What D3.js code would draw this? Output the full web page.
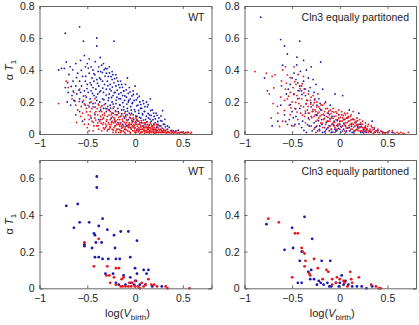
<!DOCTYPE html>
<html>
<head>
<meta charset="utf-8">
<script src="https://cdn.jsdelivr.net/npm/d3@7"></script>
<style>
  body { margin: 0; background: #fff; }
  svg { font-family: "Liberation Sans", Arial, sans-serif; }
</style>
</head>
<body>
<div id="chart"></div>
<script>
// Tick values and panel titles
const xTicks = [-1, -0.5, 0, 0.5];
const yTicksTop = [0, 0.2, 0.4, 0.6, 0.8];
const yTicksBottom = [0, 0.2, 0.4, 0.6];
const titles = ["WT", "Cln3 equally partitoned", "WT", "Cln3 equally partitoned"];

// Top-left: WT, all cells  [log(Vbirth), alpha*T1]
const tlBlue = [[-0.58,0.67],[-0.73,0.63],[-0.54,0.58],[-0.40,0.60],[-0.22,0.58],[-0.40,0.55],[-0.48,0.47],[-0.53,0.49],[-0.57,0.46],[-0.62,0.44],[-0.80,0.40],[-0.77,0.41],[-0.74,0.41],[-0.68,0.42],[-0.72,0.45],[-0.52,0.42],[-0.50,0.44],[-0.46,0.42],[-0.44,0.40],[-0.38,0.42],[-0.35,0.43],[-0.33,0.44],[-0.31,0.41],[-0.36,0.39],[-0.30,0.38],[-0.28,0.36],[-0.42,0.37],[-0.45,0.35],[-0.48,0.38],[-0.55,0.36],[-0.60,0.38],[-0.65,0.33],[-0.62,0.30],[-0.58,0.33],[-0.56,0.30],[-0.52,0.33],[-0.50,0.31],[-0.47,0.32],[-0.43,0.33],[-0.40,0.34],[-0.37,0.35],[-0.34,0.33],[-0.32,0.31],[-0.29,0.33],[-0.26,0.31],[-0.24,0.34],[-0.22,0.32],[-0.20,0.30],[-0.18,0.33],[-0.16,0.29],[-0.14,0.31],[-0.12,0.27],[-0.38,0.30],[-0.41,0.28],[-0.44,0.29],[-0.46,0.27],[-0.49,0.26],[-0.53,0.27],[-0.57,0.26],[-0.61,0.25],[-0.66,0.24],[-0.70,0.26],[-0.73,0.29],[-0.71,0.20],[-0.64,0.21],[-0.58,0.22],[-0.55,0.20],[-0.51,0.23],[-0.47,0.22],[-0.43,0.24],[-0.39,0.25],[-0.36,0.27],[-0.33,0.26],[-0.30,0.28],[-0.27,0.25],[-0.25,0.27],[-0.23,0.24],[-0.21,0.26],[-0.19,0.23],[-0.17,0.25],[-0.15,0.22],[-0.13,0.24],[-0.11,0.21],[-0.09,0.23],[-0.07,0.20],[-0.05,0.22],[-0.03,0.19],[-0.01,0.21],[0.02,0.25],[0.03,0.18],[0.05,0.20],[0.07,0.16],[0.09,0.19],[0.10,0.14],[0.13,0.17],[0.15,0.12],[0.18,0.15],[0.20,0.11],[0.22,0.13],[0.25,0.10],[0.28,0.08],[0.31,0.06],[0.34,0.05],[0.16,0.22],[0.12,0.20],[-0.02,0.27],[0.00,0.30],[-0.06,0.29],[-0.10,0.31],[-0.08,0.35],[-0.20,0.37],[-0.24,0.39],[-0.27,0.42],[-0.52,0.18],[-0.48,0.17],[-0.44,0.19],[-0.40,0.21],[-0.37,0.20],[-0.34,0.22],[-0.31,0.19],[-0.28,0.21],[-0.26,0.18],[-0.24,0.20],[-0.22,0.17],[-0.20,0.19],[-0.18,0.16],[-0.16,0.18],[-0.14,0.15],[-0.12,0.17],[-0.10,0.14],[-0.08,0.16],[-0.06,0.13],[-0.04,0.15],[-0.02,0.12],[0.00,0.14],[0.02,0.11],[0.04,0.13],[0.06,0.10],[0.08,0.12],[0.11,0.09],[0.14,0.10],[0.17,0.08],[0.21,0.07],[0.24,0.06],[0.27,0.05],[-0.36,0.15],[-0.33,0.16],[-0.30,0.14],[-0.27,0.15],[-0.23,0.13],[-0.19,0.12],[-0.15,0.11],[-0.11,0.10],[-0.07,0.09],[-0.03,0.08],[0.01,0.07],[0.05,0.06],[0.09,0.05],[0.13,0.04],[0.19,0.03],[-0.42,0.12],[-0.46,0.10],[-0.58,0.14],[-0.62,0.12],[-0.55,0.08],[-0.38,0.09],[-0.25,0.10],[-0.21,0.08],[-0.17,0.07],[-0.13,0.06],[-0.09,0.05],[-0.05,0.04],[0.03,0.03],[0.40,0.02],[0.48,0.01],[0.55,0.01],[0.22,0.02],
[-0.612,0.352],[-0.587,0.274],[-0.563,0.398],[-0.541,0.237],[-0.517,0.361],[-0.503,0.284],[-0.489,0.412],[-0.474,0.196],[-0.458,0.307],[-0.446,0.253],[-0.431,0.377],[-0.419,0.168],[-0.407,0.231],[-0.393,0.316],[-0.384,0.187],[-0.371,0.263],[-0.359,0.342],[-0.347,0.176],[-0.338,0.287],[-0.326,0.214],[-0.314,0.362],[-0.303,0.243],[-0.296,0.158],[-0.284,0.302],[-0.276,0.226],[-0.263,0.281],[-0.257,0.162],[-0.246,0.228],[-0.238,0.293],[-0.229,0.187],[-0.217,0.258],[-0.206,0.144],[-0.198,0.212],[-0.187,0.274],[-0.176,0.139],[-0.168,0.221],[-0.159,0.182],[-0.147,0.258],[-0.139,0.127],[-0.128,0.196],[-0.117,0.151],[-0.106,0.238],[-0.097,0.118],[-0.086,0.187],[-0.078,0.143],[-0.066,0.211],[-0.057,0.104],[-0.046,0.171],[-0.037,0.128],[-0.026,0.196],[-0.014,0.091],[-0.006,0.152],[0.008,0.113],[0.017,0.176],[0.026,0.082],[0.038,0.147],[0.047,0.104],[0.058,0.161],[0.066,0.073],[0.077,0.127],[0.088,0.087],[0.097,0.142],[0.106,0.061],[0.118,0.111],[0.126,0.076],[0.137,0.128],[0.148,0.057],[0.157,0.093],[0.168,0.116],[0.177,0.048],[0.188,0.089],[0.197,0.062],[0.213,0.094],[0.226,0.041],[0.238,0.078],[0.253,0.052],[0.267,0.084],[0.283,0.037],[0.297,0.061],[0.318,0.045],[0.336,0.028],[0.358,0.041],[0.382,0.022],[0.421,0.017],[0.452,0.024],[0.503,0.012],[-0.692,0.372],[-0.668,0.297],[-0.648,0.268],[-0.629,0.207],[-0.674,0.181],[-0.705,0.321],[-0.653,0.401],[-0.417,0.452],[-0.386,0.391],[-0.364,0.478],[-0.342,0.384],[-0.323,0.402],[-0.294,0.408],[-0.268,0.382],[-0.251,0.358],[-0.233,0.371],[-0.214,0.346],[-0.192,0.351],[-0.171,0.308],[-0.152,0.331],[-0.132,0.292],[-0.118,0.268],[-0.093,0.276],[-0.071,0.253],[-0.052,0.263],[-0.032,0.238],[-0.017,0.247],[0.013,0.213],[0.027,0.226],[0.044,0.236],[0.061,0.184],[0.083,0.208],[0.104,0.171],[0.138,0.183],[0.164,0.147],[0.194,0.131],[0.231,0.117],[0.271,0.113],[0.288,0.146],[0.312,0.092]];
const tlRed = [[-0.80,0.19],[-0.72,0.33],[-0.70,0.29],[-0.66,0.22],[-0.62,0.18],[-0.60,0.15],[-0.57,0.11],[-0.53,0.06],[-0.55,0.13],[-0.51,0.16],[-0.49,0.12],[-0.47,0.14],[-0.45,0.08],[-0.44,0.17],[-0.42,0.10],[-0.41,0.14],[-0.40,0.05],[-0.39,0.12],[-0.38,0.18],[-0.37,0.08],[-0.36,0.11],[-0.35,0.14],[-0.34,0.06],[-0.33,0.10],[-0.32,0.13],[-0.31,0.04],[-0.30,0.08],[-0.29,0.11],[-0.28,0.15],[-0.27,0.06],[-0.26,0.09],[-0.25,0.12],[-0.24,0.03],[-0.23,0.07],[-0.22,0.10],[-0.21,0.05],[-0.20,0.08],[-0.19,0.12],[-0.18,0.03],[-0.17,0.06],[-0.16,0.09],[-0.15,0.02],[-0.14,0.05],[-0.13,0.08],[-0.12,0.11],[-0.11,0.03],[-0.10,0.06],[-0.09,0.09],[-0.08,0.02],[-0.07,0.04],[-0.06,0.07],[-0.05,0.10],[-0.04,0.03],[-0.03,0.05],[-0.02,0.08],[-0.01,0.02],[0.00,0.04],[0.01,0.06],[0.02,0.09],[0.03,0.02],[0.04,0.04],[0.05,0.07],[0.06,0.01],[0.07,0.03],[0.08,0.05],[0.09,0.02],[0.10,0.04],[0.11,0.06],[0.12,0.01],[0.13,0.03],[0.14,0.05],[0.15,0.02],[0.16,0.04],[0.17,0.01],[0.18,0.03],[0.19,0.02],[0.20,0.04],[0.21,0.01],[0.22,0.03],[0.23,0.02],[0.24,0.01],[0.25,0.03],[0.26,0.02],[0.27,0.01],[0.28,0.02],[0.29,0.01],[0.30,0.02],[0.31,0.01],[0.32,0.02],[0.33,0.01],[0.35,0.01],[0.37,0.02],[0.39,0.01],[0.41,0.01],[0.43,0.02],[0.45,0.01],[0.47,0.01],[0.50,0.01],[0.53,0.01],[0.56,0.01],[0.59,0.01],[-0.35,0.02],[-0.32,0.03],[-0.29,0.02],[-0.26,0.04],[-0.23,0.01],[-0.20,0.02],[-0.17,0.01],[-0.14,0.02],[-0.11,0.01],[-0.08,0.05],[-0.05,0.01],[-0.02,0.04],[0.01,0.01],[0.04,0.02],[0.07,0.01],[0.10,0.02],[0.13,0.01],[0.16,0.02],[0.19,0.01],[0.22,0.01],[0.25,0.01],[-0.28,0.07],[-0.25,0.06],[-0.22,0.04],[-0.19,0.06],[-0.16,0.05],[-0.13,0.04],[-0.10,0.03],[-0.07,0.06],[-0.04,0.06],[-0.01,0.05],[0.02,0.03],[0.05,0.03],[0.08,0.03],[0.11,0.02],[0.14,0.03],[-0.30,0.05],[-0.27,0.03],[-0.24,0.08],[-0.21,0.07],[-0.18,0.09],[-0.15,0.07],[-0.12,0.05],[-0.09,0.07],[-0.06,0.05],[-0.03,0.07],[0.00,0.07],[0.03,0.06],[0.06,0.05],[0.09,0.04],[0.12,0.04],[0.15,0.04],[0.18,0.05],[0.21,0.03],[0.24,0.04],[0.27,0.03],[0.30,0.03],[-0.33,0.07],[-0.36,0.09],[-0.39,0.07],[-0.43,0.05],[-0.48,0.09],[-0.50,0.04],[-0.46,0.20],[-0.42,0.22],[-0.52,0.24],[-0.58,0.28],[-0.54,0.21],[-0.64,0.26],[-0.48,0.02],[-0.44,0.02],[-0.38,0.03],[-0.34,0.12],[-0.31,0.16],[-0.26,0.14],[-0.23,0.16],[-0.20,0.14],[-0.17,0.13],[-0.14,0.12],[-0.11,0.13],[-0.08,0.12],[-0.05,0.12],[-0.02,0.10],[0.01,0.10],[0.04,0.08],[0.07,0.07],[0.10,0.07],[0.13,0.06],[0.17,0.06],[0.20,0.06],[0.23,0.05],[0.26,0.05],[0.20,0.00],[0.15,0.00],[0.10,0.00],[0.05,0.00],[0.00,0.01],[-0.05,0.00],[-0.10,0.00],[-0.15,0.01],[-0.20,0.01],[0.34,0.03],[0.38,0.00],[0.44,0.00],[0.52,0.00],[0.58,0.00],
[-0.563,0.172],[-0.527,0.091],[-0.508,0.138],[-0.486,0.061],[-0.468,0.113],[-0.453,0.158],[-0.437,0.073],[-0.423,0.131],[-0.411,0.087],[-0.397,0.159],[-0.383,0.052],[-0.372,0.141],[-0.356,0.068],[-0.343,0.093],[-0.331,0.038],[-0.318,0.117],[-0.307,0.062],[-0.294,0.089],[-0.283,0.029],[-0.272,0.118],[-0.261,0.047],[-0.248,0.073],[-0.236,0.108],[-0.227,0.024],[-0.214,0.089],[-0.203,0.053],[-0.193,0.031],[-0.182,0.071],[-0.171,0.104],[-0.163,0.028],[-0.152,0.064],[-0.141,0.037],[-0.133,0.093],[-0.122,0.018],[-0.113,0.072],[-0.103,0.043],[-0.094,0.026],[-0.083,0.083],[-0.074,0.051],[-0.063,0.017],[-0.054,0.061],[-0.043,0.038],[-0.034,0.087],[-0.023,0.021],[-0.013,0.058],[-0.004,0.034],[0.006,0.078],[0.014,0.022],[0.024,0.048],[0.035,0.013],[0.043,0.061],[0.054,0.027],[0.062,0.043],[0.073,0.014],[0.083,0.068],[0.094,0.031],[0.103,0.012],[0.114,0.047],[0.124,0.023],[0.136,0.014],[0.143,0.038],[0.154,0.011],[0.167,0.032],[0.176,0.017],[0.186,0.044],[0.197,0.012],[0.207,0.026],[0.218,0.008],[0.234,0.021],[0.246,0.011],[0.258,0.027],[0.274,0.009],[0.286,0.018],[0.302,0.011],[0.316,0.024],[0.327,0.006],[0.344,0.014],[0.362,0.008],[0.384,0.013],[0.406,0.006],[0.427,0.009],[0.463,0.006],[0.487,0.011],[0.517,0.004],[0.546,0.008],[-0.612,0.072],[-0.583,0.203],[-0.532,0.188],[-0.492,0.179],[-0.417,0.193],[-0.362,0.167],[-0.323,0.183],[-0.286,0.172],[-0.243,0.132],[-0.207,0.121],[-0.156,0.109],[-0.097,0.108],[-0.044,0.098],[0.018,0.088],[0.064,0.084],[0.117,0.074],[0.159,0.069],[0.196,0.054],[0.228,0.061]];

// Top-right: Cln3 equally partitioned, all cells
const trBlue = [[-0.83,0.73],[-0.62,0.59],[-0.42,0.58],[-0.58,0.55],[-0.55,0.50],[-0.45,0.48],[-0.38,0.46],[-0.20,0.45],[-0.30,0.42],[-0.35,0.40],[-0.79,0.35],[-0.76,0.27],[-0.60,0.43],[-0.48,0.38],[-0.46,0.34],[-0.44,0.32],[-0.50,0.35],[-0.52,0.31],[-0.54,0.28],[-0.42,0.30],[-0.40,0.27],[-0.38,0.33],[-0.33,0.35],[-0.28,0.34],[-0.25,0.31],[-0.31,0.29],[-0.36,0.24],[-0.48,0.25],[-0.56,0.25],[-0.44,0.22],[-0.34,0.21],[-0.27,0.26],[-0.22,0.22],[-0.18,0.28],[-0.05,0.25],[0.03,0.24],[-0.15,0.20],[-0.10,0.18],[-0.62,0.18],[-0.58,0.12],[-0.53,0.09],[-0.50,0.14],[-0.46,0.11],[-0.42,0.16],[-0.39,0.08],[-0.36,0.13],[-0.33,0.10],[-0.30,0.17],[-0.27,0.07],[-0.24,0.12],[-0.21,0.05],[-0.19,0.09],[-0.16,0.04],[-0.13,0.08],[-0.11,0.02],[-0.08,0.06],[-0.05,0.03],[-0.02,0.05],[0.01,0.01],[0.04,0.03],[0.07,0.02],[0.10,0.04],[0.13,0.01],[0.16,0.02],[0.19,0.05],[0.22,0.01],[0.25,0.03],[0.28,0.01],[0.31,0.02],[0.34,0.08],[0.37,0.01],[0.40,0.02],[0.45,0.01],[0.55,0.01],[-0.71,0.05],[-0.65,0.08],[-0.29,0.02],[-0.26,0.04],[-0.23,0.02],[-0.18,0.01],[-0.14,0.03],[-0.09,0.01],[-0.06,0.08],[-0.03,0.02],[0.00,0.06],[0.06,0.05],[0.12,0.06],[0.17,0.07],[0.22,0.06],[0.27,0.04],[-0.12,0.13],[-0.08,0.11],[-0.01,0.12],[0.05,0.09],[0.08,0.10],[0.14,0.09],[0.20,0.13],[0.10,0.15],[-0.20,0.15],[-0.24,0.18],[-0.40,0.04],[-0.35,0.01],[-0.32,0.05],[-0.47,0.06],
[-0.452,0.432],[-0.413,0.392],[-0.437,0.271],[-0.397,0.247],[-0.372,0.282],[-0.353,0.188],[-0.326,0.268],[-0.304,0.196],[-0.283,0.141],[-0.264,0.213],[-0.242,0.116],[-0.223,0.083],[-0.206,0.191],[-0.187,0.061],[-0.163,0.117],[-0.142,0.072],[-0.126,0.039],[-0.103,0.094],[-0.087,0.028],[-0.064,0.057],[-0.043,0.019],[-0.027,0.083],[-0.012,0.034],[0.012,0.047],[0.027,0.018],[0.043,0.067],[0.063,0.012],[0.083,0.037],[0.108,0.021],[0.123,0.048],[0.147,0.013],[0.183,0.027],[0.213,0.043],[0.241,0.011],[0.286,0.026],[0.324,0.013],[0.362,0.032],[0.483,0.009],[-0.518,0.183],[-0.487,0.102],[-0.463,0.157],[-0.428,0.063],[-0.568,0.078],[-0.612,0.301],[-0.503,0.052],[-0.376,0.023],[-0.338,0.058],[-0.247,0.046],[-0.213,0.028],[-0.158,0.013],[-0.112,0.052],[-0.073,0.012],[0.186,0.043],[0.263,0.018]];
const trRed = [[-0.89,0.39],[-0.77,0.38],[-0.71,0.36],[-0.74,0.25],[-0.72,0.10],[-0.68,0.37],[-0.60,0.40],[-0.57,0.42],[-0.55,0.37],[-0.57,0.28],[-0.55,0.22],[-0.53,0.18],[-0.58,0.21],[-0.60,0.08],[-0.52,0.26],[-0.50,0.20],[-0.49,0.29],[-0.47,0.16],[-0.45,0.24],[-0.43,0.19],[-0.41,0.13],[-0.40,0.22],[-0.38,0.17],[-0.37,0.11],[-0.35,0.19],[-0.34,0.15],[-0.32,0.09],[-0.31,0.21],[-0.29,0.14],[-0.28,0.18],[-0.27,0.11],[-0.26,0.15],[-0.25,0.08],[-0.24,0.20],[-0.23,0.13],[-0.22,0.10],[-0.21,0.16],[-0.20,0.07],[-0.19,0.12],[-0.18,0.18],[-0.17,0.09],[-0.16,0.14],[-0.15,0.06],[-0.14,0.11],[-0.13,0.16],[-0.12,0.08],[-0.11,0.12],[-0.10,0.05],[-0.09,0.10],[-0.08,0.14],[-0.07,0.07],[-0.06,0.11],[-0.05,0.04],[-0.04,0.09],[-0.03,0.13],[-0.02,0.06],[-0.01,0.10],[0.00,0.03],[0.01,0.08],[0.02,0.12],[0.03,0.05],[0.04,0.09],[0.05,0.02],[0.06,0.07],[0.07,0.10],[0.08,0.04],[0.09,0.08],[0.10,0.02],[0.11,0.06],[0.12,0.09],[0.13,0.03],[0.14,0.06],[0.15,0.02],[0.16,0.05],[0.17,0.08],[0.18,0.03],[0.19,0.06],[0.20,0.02],[0.21,0.04],[0.22,0.07],[0.23,0.02],[0.24,0.04],[0.25,0.01],[0.26,0.03],[0.27,0.05],[0.28,0.02],[0.29,0.03],[0.30,0.01],[0.32,0.02],[0.34,0.04],[0.36,0.01],[0.38,0.02],[0.40,0.01],[0.43,0.02],[0.46,0.01],[0.50,0.01],[0.55,0.02],[0.60,0.01],[0.64,0.01],[0.68,0.00],[0.72,0.01],[-0.30,0.05],[-0.27,0.03],[-0.24,0.05],[-0.21,0.02],[-0.18,0.04],[-0.15,0.02],[-0.12,0.04],[-0.09,0.03],[-0.06,0.05],[-0.03,0.03],[0.00,0.08],[0.03,0.10],[0.06,0.12],[0.09,0.11],[0.12,0.12],[0.15,0.09],[0.18,0.10],[0.21,0.09],[0.24,0.08],[0.27,0.07],[0.30,0.06],[0.33,0.05],[0.36,0.04],[0.40,0.03],[-0.36,0.07],[-0.33,0.13],[-0.30,0.11],[-0.28,0.24],[-0.25,0.14],[-0.22,0.17],[-0.19,0.15],[-0.16,0.19],[-0.13,0.13],[-0.10,0.15],[-0.07,0.16],[-0.04,0.14],[-0.01,0.15],[0.02,0.14],[0.05,0.13],[0.08,0.13],[0.11,0.11],[0.14,0.14],[-0.44,0.09],[-0.42,0.27],[-0.46,0.31],[-0.40,0.30],[-0.36,0.28],[-0.33,0.25],[-0.30,0.23],[-0.26,0.22],[-0.23,0.25],[-0.38,0.36],[-0.48,0.42],[-0.52,0.12],[-0.55,0.06],[-0.65,0.13],[-0.62,0.23],[-0.70,0.19],[-0.48,0.05],[0.05,0.00],[0.15,0.00],[0.25,0.00],[-0.05,0.01],[-0.15,0.00],[-0.25,0.01],[0.35,0.00],[0.45,0.00],[0.52,0.02],[0.58,0.00],
[-0.612,0.332],[-0.582,0.147],[-0.561,0.318],[-0.538,0.236],[-0.512,0.163],[-0.483,0.247],[-0.462,0.198],[-0.448,0.137],[-0.426,0.223],[-0.408,0.176],[-0.391,0.118],[-0.377,0.257],[-0.361,0.143],[-0.347,0.212],[-0.333,0.172],[-0.318,0.131],[-0.304,0.187],[-0.293,0.102],[-0.281,0.153],[-0.268,0.196],[-0.257,0.121],[-0.243,0.168],[-0.232,0.087],[-0.218,0.137],[-0.207,0.113],[-0.196,0.182],[-0.183,0.068],[-0.172,0.124],[-0.161,0.097],[-0.148,0.158],[-0.137,0.077],[-0.124,0.104],[-0.116,0.143],[-0.103,0.081],[-0.093,0.127],[-0.082,0.062],[-0.071,0.098],[-0.062,0.137],[-0.052,0.073],[-0.041,0.112],[-0.032,0.053],[-0.023,0.089],[-0.012,0.121],[-0.004,0.067],[0.007,0.104],[0.016,0.043],[0.027,0.082],[0.036,0.116],[0.047,0.058],[0.056,0.093],[0.067,0.037],[0.078,0.071],[0.087,0.101],[0.096,0.052],[0.107,0.083],[0.117,0.031],[0.128,0.068],[0.138,0.094],[0.147,0.043],[0.158,0.072],[0.166,0.024],[0.177,0.057],[0.187,0.083],[0.196,0.036],[0.207,0.061],[0.218,0.018],[0.227,0.047],[0.238,0.062],[0.247,0.023],[0.258,0.041],[0.268,0.014],[0.281,0.032],[0.293,0.048],[0.307,0.017],[0.318,0.031],[0.331,0.011],[0.347,0.026],[0.366,0.013],[0.383,0.021],[0.417,0.008],[0.442,0.016],[0.473,0.006],[0.512,0.011],[0.568,0.007],[0.621,0.004],[0.663,0.006],[-0.654,0.173],[-0.693,0.288],[-0.632,0.047],[-0.521,0.352],[-0.474,0.327],[-0.437,0.372],[-0.417,0.283],[-0.394,0.314]];

// Bottom-left: WT, subsample
const blBlue = [[-0.40,0.61],[-0.40,0.55],[-0.72,0.45],[-0.60,0.46],[-0.64,0.33],[-0.58,0.36],[-0.48,0.36],[-0.34,0.38],[-0.38,0.34],[-0.43,0.30],[-0.42,0.29],[-0.29,0.32],[-0.22,0.29],[-0.15,0.31],[-0.07,0.31],[0.02,0.26],[-0.53,0.24],[-0.53,0.23],[-0.45,0.22],[-0.21,0.22],[-0.41,0.25],[-0.35,0.25],[-0.42,0.17],[-0.38,0.17],[-0.34,0.16],[-0.28,0.16],[-0.20,0.16],[-0.16,0.16],[-0.05,0.17],[0.00,0.11],[0.02,0.08],[0.09,0.10],[0.14,0.10],[0.12,0.08],[-0.31,0.08],[-0.23,0.08],[-0.12,0.07],[-0.05,0.06],[-0.17,0.02],[-0.10,0.02],[-0.01,0.02],[0.05,0.02],[0.11,0.02],[0.18,0.01],[0.28,0.01],[-0.20,0.03],[-0.04,0.03],[0.01,0.04]];
const blRed = [[-0.53,0.25],[-0.43,0.12],[-0.38,0.27],[-0.29,0.12],[-0.30,0.07],[-0.27,0.07],[-0.20,0.11],[-0.17,0.11],[-0.22,0.06],[-0.14,0.05],[-0.12,0.06],[-0.06,0.03],[-0.03,0.03],[0.00,0.04],[-0.10,0.01],[-0.07,0.01],[-0.04,0.01],[0.03,0.01],[0.07,0.03],[0.11,0.02],[0.14,0.05],[0.17,0.02],[0.20,0.02],[0.23,0.01],[0.32,0.01],[0.34,0.00],[0.57,0.00],[-0.26,0.03],[-0.20,0.02],[-0.13,0.01],[0.05,0.00],[0.09,0.01],[-0.15,0.01],[0.00,0.01]];

// Bottom-right: Cln3 equally partitioned, subsample
const brBlue = [[-0.77,0.35],[-0.37,0.39],[-0.50,0.33],[-0.29,0.27],[-0.58,0.21],[-0.49,0.22],[-0.40,0.20],[-0.42,0.15],[-0.19,0.15],[-0.10,0.15],[-0.33,0.09],[-0.30,0.10],[-0.31,0.05],[-0.27,0.05],[-0.22,0.04],[-0.44,0.03],[-0.40,0.03],[-0.20,0.03],[-0.17,0.02],[-0.13,0.03],[-0.11,0.01],[-0.04,0.03],[0.00,0.03],[0.04,0.02],[0.06,0.04],[0.09,0.02],[0.13,0.01],[0.18,0.01],[0.23,0.01],[0.28,0.00],[0.34,0.01],[0.02,0.07],[-0.01,0.01],[-0.09,0.01],[-0.24,0.02]];
const brRed = [[-0.75,0.38],[-0.64,0.36],[-0.47,0.30],[-0.44,0.30],[-0.40,0.22],[-0.39,0.20],[-0.37,0.19],[-0.36,0.15],[-0.37,0.12],[-0.50,0.06],[-0.32,0.08],[-0.31,0.07],[-0.27,0.16],[-0.23,0.11],[-0.14,0.10],[-0.12,0.09],[-0.18,0.05],[-0.08,0.05],[-0.03,0.06],[0.00,0.05],[-0.04,0.03],[0.04,0.04],[0.11,0.09],[0.12,0.05],[0.20,0.06],[0.33,0.02],[0.38,0.01],[0.41,0.00],[0.43,0.00],[0.13,0.03],[-0.08,0.02],[0.05,0.03],[0.08,0.01]];

const width = 419, height = 325;
const axisColor = "#666", textColor = "#222";
const blue = "#1a1ab4", red = "#e8161c";

const svg = d3.select("#chart").append("svg")
    .attr("width", width)
    .attr("height", height);

// Panel frames in pixels
const cols = [{left: 39.5, right: 211.5}, {left: 244.5, right: 416}];
const rows = [{top: 6, bottom: 134, yMax: 0.8, ticks: yTicksTop, r: 0.9},
              {top: 160, bottom: 288.3, yMax: 0.7, ticks: yTicksBottom, r: 1.4}];

const panels = [
    {row: 0, col: 0, blue: tlBlue, red: tlRed},
    {row: 0, col: 1, blue: trBlue, red: trRed},
    {row: 1, col: 0, blue: blBlue, red: blRed},
    {row: 1, col: 1, blue: brBlue, red: brRed}
];

function fmt(v) {
    return v < 0 ? "\u2212" + String(-v) : String(v);
}

panels.forEach(function (p, i) {
    const c = cols[p.col], r = rows[p.row];
    const x = d3.scaleLinear().domain([-1, 0.8]).range([c.left, c.right]);
    const y = d3.scaleLinear().domain([0, r.yMax]).range([r.bottom, r.top]);
    const g = svg.append("g");

    // Points: blue first, red on top
    [[p.blue, blue], [p.red, red]].forEach(function (s) {
        g.append("g").selectAll("circle")
         .data(s[0])
         .enter()
         .append("circle")
         .attr("cx", d => x(d[0]))
         .attr("cy", d => y(d[1]))
         .attr("r", r.r)
         .attr("fill", s[1]);
    });

    // Axes with inward ticks (bottom/left labelled, top/right bare)
    const tickLen = 3;
    g.append("g")
     .attr("transform", "translate(0," + r.bottom + ")")
     .call(d3.axisBottom(x).tickValues(xTicks).tickSize(-tickLen).tickPadding(6).tickFormat(fmt));
    g.append("g")
     .attr("transform", "translate(0," + r.top + ")")
     .call(d3.axisTop(x).tickValues(xTicks).tickSize(-tickLen).tickFormat(""));
    g.append("g")
     .attr("transform", "translate(" + c.left + ",0)")
     .call(d3.axisLeft(y).tickValues(r.ticks).tickSize(-tickLen).tickPadding(5).tickFormat(fmt));
    g.append("g")
     .attr("transform", "translate(" + c.right + ",0)")
     .call(d3.axisRight(y).tickValues(r.ticks).tickSize(-tickLen).tickFormat(""));

    g.selectAll(".domain").attr("stroke", axisColor).attr("stroke-width", 1);
    g.selectAll(".tick line").attr("stroke", axisColor);
    g.selectAll(".tick text")
     .attr("fill", textColor)
     .style("font-size", "10.5px")
     .style("font-family", "'Liberation Sans', Arial, sans-serif");

    // Panel title, top right
    g.append("text")
     .attr("x", c.right - 7)
     .attr("y", r.top + 15)
     .attr("text-anchor", "end")
     .attr("fill", textColor)
     .style("font-size", "10.5px")
     .text(titles[i]);
});

// Y labels: alpha T_1
rows.forEach(function (r) {
    const cy = (r.top + r.bottom) / 2;
    const t = svg.append("text")
        .attr("transform", "translate(13," + cy + ") rotate(-90)")
        .attr("text-anchor", "middle")
        .attr("fill", textColor)
        .style("font-size", "11px");
    t.append("tspan").text("\u03b1 ");
    t.append("tspan").style("font-style", "italic").text("T");
    t.append("tspan").attr("dy", 3).style("font-size", "8px").text("1");
});

// X labels: log(V_birth), under the bottom row
cols.forEach(function (c) {
    const cx = (c.left + c.right) / 2 + 2;
    const t = svg.append("text")
        .attr("x", cx)
        .attr("y", 317)
        .attr("text-anchor", "middle")
        .attr("fill", textColor)
        .style("font-size", "11px");
    t.append("tspan").text("log(");
    t.append("tspan").style("font-style", "italic").text("V");
    t.append("tspan").attr("dy", 3).style("font-size", "8px").text("birth");
    t.append("tspan").attr("dy", -3).text(")");
});
</script>
</body>
</html>
